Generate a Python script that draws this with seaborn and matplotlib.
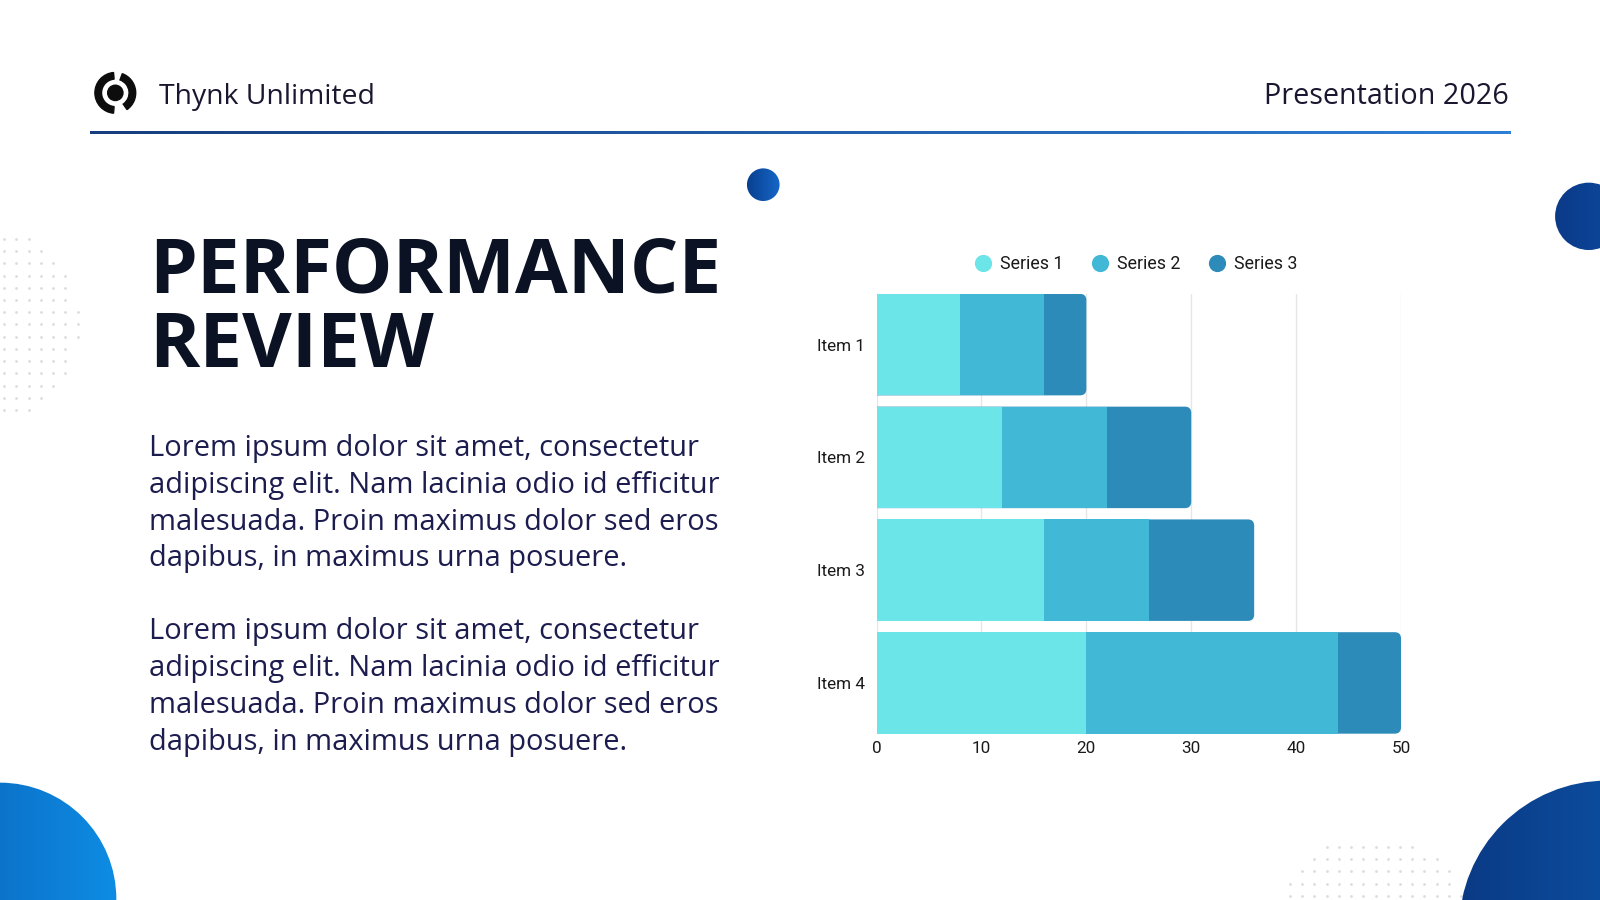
import numpy as np
import pandas as pd
import matplotlib
matplotlib.use("Agg")
import matplotlib.pyplot as plt
import seaborn as sns
from matplotlib.patches import Circle, Wedge, FancyBboxPatch
from matplotlib.lines import Line2D

# chart data
items = ["Item 1", "Item 2", "Item 3", "Item 4"]
series_names = ["Series 1", "Series 2", "Series 3"]
series_1 = [8, 12, 16, 20]
series_2 = [8, 10, 10, 24]
series_3 = [4, 8, 10, 6]
x_ticks = [0, 10, 20, 30, 40, 50]
colors = ["#6ce5e8", "#41b8d5", "#2d8bba"]

title = "PERFORMANCE\nREVIEW"
body = ("Lorem ipsum dolor sit amet, consectetur\n"
        "adipiscing elit. Nam lacinia odio id efficitur\n"
        "malesuada. Proin maximus dolor sed eros\n"
        "dapibus, in maximus urna posuere.")

W, H = 1568, 882  # reference pixel space
S = 1600 / W


def fx(x):
    return x / W


def fy(y):
    return 1 - y / H


def pt(px):
    return px * S * 0.72


sns.set_theme(style="white")
plt.rcParams["font.family"] = ["Open Sans", "DejaVu Sans"]

fig = plt.figure(figsize=(16, 9), dpi=100)
fig.patch.set_facecolor("white")

# background layer in reference pixels
bg = fig.add_axes([0, 0, 1, 1])
bg.set_xlim(0, W)
bg.set_ylim(H, 0)
bg.axis("off")


def grad_circle(cx, cy, r, c1, c2):
    g = np.linspace(0, 1, 256).reshape(1, -1)
    cmap = matplotlib.colors.LinearSegmentedColormap.from_list("g", [c1, c2])
    im = bg.imshow(g, cmap=cmap, extent=[cx - r, cx + r, cy + r, cy - r],
                   aspect="auto", zorder=1)
    clip = Circle((cx, cy), r, transform=bg.transData)
    im.set_clip_path(clip)


# dotted patterns
for (cx, cy, r, x0, x1, y0, y1) in [(-20, 318, 97, 4, 90, 222, 415),
                                    (1345, 918, 100, 1240, 1450, 818, 882)]:
    xs, ys = np.meshgrid(np.arange(x0, x1, 12), np.arange(y0, y1, 12))
    m = (xs - cx) ** 2 + (ys - cy) ** 2 < r ** 2
    bg.scatter(xs[m], ys[m], s=4, color="#dcdcdc", linewidths=0, zorder=0)

grad_circle(0, 881, 114, "#0a5ab0", "#0e8ce4")
grad_circle(1575, 910, 145, "#0a3a85", "#0e5fb5")
grad_circle(748, 181, 16, "#0a3f90", "#1567c8")
grad_circle(1557, 212, 33, "#0b3a88", "#0d4a9e")

# header line
g = np.linspace(0, 1, 256).reshape(1, -1)
hcmap = matplotlib.colors.LinearSegmentedColormap.from_list("h", ["#173e7e", "#2e7fd6"])
bg.imshow(g, cmap=hcmap, extent=[88, 1480, 131, 129], aspect="auto", zorder=1)

# logo
bg.add_patch(Wedge((113, 91), 20, 95, 265, width=6.5, color="#0d0d0d", zorder=2))
bg.add_patch(Wedge((113, 91), 20, -70, 55, width=6.5, color="#0d0d0d", zorder=2))
bg.add_patch(Circle((113, 91), 7.5, color="#0d0d0d", zorder=2))

fig.text(fx(156), fy(95), "Thynk Unlimited", fontsize=pt(27.8), color="#1b1630",
         va="center", ha="left")
fig.text(fx(1479), fy(95), "Presentation 2026", fontsize=pt(28.2), color="#1b1630",
         va="center", ha="right")

fig.text(fx(146), fy(304), title, fontsize=pt(74.8), fontweight="bold",
         color="#0b1224", va="center", ha="left", linespacing=0.98)
fig.text(fx(146), fy(493.5), body, fontsize=pt(28.4), color="#1c1d4e",
         va="center", ha="left", linespacing=1.36)
fig.text(fx(146), fy(673.5), body, fontsize=pt(28.4), color="#1c1d4e",
         va="center", ha="left", linespacing=1.36)

# chart
ax = fig.add_axes([fx(859), fy(719), fx(1373) - fx(859), (719 - 288) / H])
df = pd.DataFrame({"item": items, "s1": series_1, "s2": series_2, "s3": series_3})
df["c2"] = df["s1"] + df["s2"]
df["c3"] = df["c2"] + df["s3"]

sns.barplot(data=df, x="c3", y="item", color=colors[2], width=0.9,
            saturation=1, ax=ax, orient="h", linewidth=0)
# round the outer end of each stack
for p in list(ax.patches):
    x, y, w, h = p.get_x(), p.get_y(), p.get_width(), p.get_height()
    p.remove()
    ax.add_patch(FancyBboxPatch((x - 2, y), w + 2, h,
                                boxstyle="round,pad=0,rounding_size=0.6",
                                mutation_aspect=0.093, facecolor=colors[2],
                                edgecolor="none", zorder=0.9))
sns.barplot(data=df, x="c2", y="item", color=colors[1], width=0.9,
            saturation=1, ax=ax, orient="h", linewidth=0)
sns.barplot(data=df, x="s1", y="item", color=colors[0], width=0.9,
            saturation=1, ax=ax, orient="h", linewidth=0)

ax.set_xlim(0, 50)
ax.set_ylim(3.45, -0.45)
ax.set_xticks(x_ticks)
ax.set_xlabel("")
ax.set_ylabel("")
ax.set_axisbelow(True)
ax.grid(axis="x", color="#e6e6e6", linewidth=1)
ax.grid(axis="y", visible=False)
for s in ax.spines.values():
    s.set_visible(False)
ax.tick_params(axis="both", length=0, labelsize=pt(16.8), colors="#1a1a1a")
ax.tick_params(axis="y", pad=8)
ax.tick_params(axis="x", pad=5)
for lab in ax.get_xticklabels() + ax.get_yticklabels():
    lab.set_fontfamily(["Roboto", "DejaVu Sans"])
ax.set_facecolor("none")

handles = [Line2D([], [], marker="o", linestyle="", markersize=pt(15.5),
                  markerfacecolor=c, markeredgecolor=c) for c in colors]
fig.legend(handles, series_names, loc="center", ncol=3,
           bbox_to_anchor=(fx(1113), fy(259)), frameon=False,
           prop={"family": ["Roboto", "DejaVu Sans"], "size": pt(17.4)},
           handletextpad=0.42, columnspacing=1.6, handlelength=1.0,
           labelcolor="#1a1a1a")

fig.savefig("out.png", dpi=100, facecolor="white")
